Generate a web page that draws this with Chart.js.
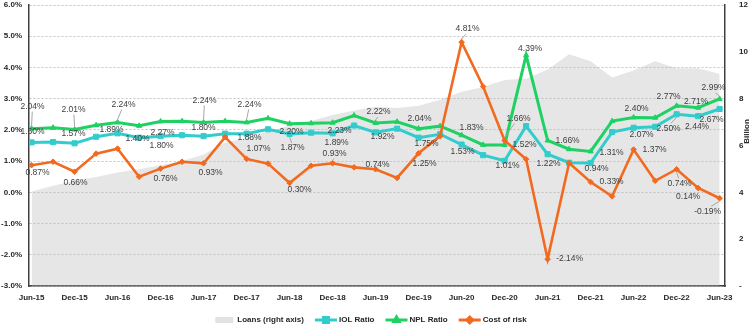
<!DOCTYPE html>
<html>
<head>
<meta charset="utf-8">
<script src="https://cdn.jsdelivr.net/npm/chart.js@4.4.0/dist/chart.umd.min.js"></script>
<style>
  html, body { margin: 0; padding: 0; background: #fff; }
  #wrap { width: 750px; height: 325px; }
</style>
</head>
<body>
<div id="wrap"><canvas id="riskChart"></canvas></div>
<script>
// Quarterly asset-quality ratios (left axis, %) and loan book (right axis, billion)
const quarters = ['Jun-15','Sep-15','Dec-15','Mar-16','Jun-16','Sep-16','Dec-16','Mar-17','Jun-17','Sep-17','Dec-17',
  'Mar-18','Jun-18','Sep-18','Dec-18','Mar-19','Jun-19','Sep-19','Dec-19','Mar-20','Jun-20','Sep-20','Dec-20',
  'Mar-21','Jun-21','Sep-21','Dec-21','Mar-22','Jun-22','Sep-22','Dec-22','Mar-23','Jun-23'];

const loans = [4.04, 4.28, 4.5, 4.66, 4.85, 4.99, 5.16, 5.34, 5.62, 6.12, 6.33, 6.6, 6.85, 7.05, 7.3, 7.5, 7.65,
  7.6, 7.7, 7.95, 8.3, 8.5, 8.8, 8.85, 9.25, 9.9, 9.6, 8.9, 9.2, 9.6, 9.3, 9.3, 9.05];

const iolRatio = [1.60, 1.61, 1.57, 1.78, 1.89, 1.75, 1.80, 1.83, 1.80, 1.88, 1.88, 2.02, 1.87, 1.91, 1.89, 2.14, 1.92,
  2.04, 1.75, 1.86, 1.53, 1.19, 1.01, 2.12, 1.22, 0.95, 0.94, 1.93, 2.07, 2.10, 2.50, 2.44, 2.67];

const nplRatio = [2.04, 2.07, 2.01, 2.15, 2.24, 2.13, 2.27, 2.28, 2.24, 2.28, 2.24, 2.37, 2.20, 2.21, 2.23, 2.46, 2.22,
  2.26, 2.04, 2.12, 1.83, 1.52, 1.52, 4.39, 1.66, 1.38, 1.31, 2.28, 2.40, 2.39, 2.77, 2.71, 2.99];

const costOfRisk = [0.87, 0.98, 0.66, 1.24, 1.40, 0.50, 0.76, 0.98, 0.93, 1.77, 1.07, 0.92, 0.30, 0.85, 0.93, 0.80, 0.74,
  0.46, 1.25, 1.80, 4.81, 3.39, 1.66, 1.06, -2.14, 0.94, 0.33, -0.13, 1.37, 0.37, 0.74, 0.14, -0.19];

const leftTicks = { min: -3, max: 6, step: 1 };
const rightTicks = { min: 0, max: 12, step: 2 };

// which points carry a value label: [series, index, dx, dy, leader line]
const labelSpots = [
  ['npl', 0, 1, -22, true], ['iol', 0, 1, -11], ['cor', 0, 6, 7],
  ['npl', 2, -1, -20, true], ['iol', 2, -1, -10], ['cor', 2, 1, 11],
  ['npl', 4, 6, -18, true], ['iol', 4, -6, -4], ['cor', 4, 20, -10],
  ['npl', 6, 2, 11], ['iol', 6, 1, 10], ['cor', 6, 5, 10],
  ['npl', 8, 1, -22, true], ['iol', 8, 0, -8], ['cor', 8, 7, 9],
  ['npl', 10, 3, -18, true], ['iol', 10, 3, 4], ['cor', 10, 12, -10],
  ['npl', 12, 2, 8], ['iol', 12, 3, 14, true], ['cor', 12, 10, 7],
  ['npl', 14, 7, 8], ['iol', 14, 4, 9], ['cor', 14, 2, -10, true],
  ['npl', 16, 3, -11, true], ['iol', 16, 7, 4], ['cor', 16, 2, -5],
  ['npl', 18, 1, -10], ['iol', 18, 8, 6], ['cor', 18, 6, 10],
  ['npl', 20, 10, -8], ['iol', 20, 1, 7], ['cor', 20, 6, -13, true],
  ['npl', 22, 20, 0], ['iol', 22, 3, 5], ['cor', 22, 14, -22, true],
  ['npl', 23, 4, -7],
  ['npl', 24, 20, 0], ['iol', 24, 1, 9], ['cor', 24, 22, 0],
  ['npl', 26, 21, 1], ['iol', 26, 6, 6], ['cor', 26, 21, 0],
  ['npl', 28, 3, -9], ['iol', 28, 8, 7], ['cor', 28, 21, 0],
  ['npl', 30, -8, -9], ['iol', 30, -8, 14, true], ['cor', 30, 3, 14, true],
  ['npl', 31, -2, -6], ['iol', 31, -1, 11], ['cor', 31, -10, 9],
  ['npl', 32, -6, -11, true], ['iol', 32, -8, 11], ['cor', 32, -12, 13, true]
];

const FONT = '"Liberation Sans", Arial, sans-serif';
const xy = arr => arr.map((v, i) => ({ x: i, y: v }));

const valueLabels = {
  id: 'valueLabels',
  afterDatasetsDraw(chart) {
    const ctx = chart.ctx;
    ctx.save();
    ctx.font = '8.5px ' + FONT;
    ctx.textAlign = 'center';
    ctx.textBaseline = 'middle';
    labelSpots.forEach(([key, i, dx, dy, lead]) => {
      const dsIndex = chart.data.datasets.findIndex(d => d.key === key);
      const pt = chart.getDatasetMeta(dsIndex).data[i];
      const val = chart.data.datasets[dsIndex].data[i].y;
      const lx = pt.x + dx, ly = pt.y + dy;
      if (lead) {
        const s = dy < 0 ? 1 : -1;
        ctx.strokeStyle = '#a6a6a6';
        ctx.lineWidth = 1;
        ctx.beginPath();
        ctx.moveTo(lx - dx * 0.3, ly + s * 5);
        ctx.lineTo(pt.x, pt.y - s * 3);
        ctx.stroke();
      }
      ctx.fillStyle = '#404040';
      ctx.fillText(val.toFixed(2) + '%', lx, ly);
    });
    ctx.restore();
  }
};

const bottomLegend = {
  id: 'bottomLegend',
  afterDraw(chart) {
    const ctx = chart.ctx;
    ctx.save();
    ctx.font = 'bold 8px ' + FONT;
    ctx.textBaseline = 'middle';
    const widths = chart.data.datasets.map(d => 22 + 2 + ctx.measureText(d.label).width);
    const total = widths.reduce((a, b) => a + b, 0) + 11 * (widths.length - 1);
    let x = 370 - total / 2;
    const y = 320;
    chart.data.datasets.forEach((d, k) => {
      if (d.fill) {
        ctx.fillStyle = '#e3e3e3';
        ctx.fillRect(x + 2, y - 3, 18, 6);
      } else {
        ctx.strokeStyle = d.borderColor;
        ctx.lineWidth = 3;
        ctx.beginPath();
        ctx.moveTo(x, y);
        ctx.lineTo(x + 22, y);
        ctx.stroke();
        ctx.fillStyle = d.borderColor;
        Chart.helpers.drawPoint(ctx, { pointStyle: d.pointStyle, radius: d.pointRadius, rotation: 0, borderWidth: 1 }, x + 11, y);
      }
      ctx.fillStyle = '#262626';
      ctx.fillText(d.label, x + 24, y);
      x += widths[k] + 11;
    });

    // right axis unit
    const y1 = chart.scales.y1;
    ctx.translate(chart.chartArea.right + 22, y1.getPixelForValue(6.6));
    ctx.rotate(-Math.PI / 2);
    ctx.textAlign = 'center';
    ctx.fillText('Billion', 0, 0);
    ctx.restore();
  }
};

const tickFont = { family: FONT, size: 8, weight: 'bold' };

new Chart(document.getElementById('riskChart'), {
  type: 'line',
  data: {
    datasets: [
      {
        key: 'loans', label: 'Loans (right axis)', data: xy(loans), yAxisID: 'y1',
        fill: 'origin', backgroundColor: 'rgba(185,185,185,0.36)', borderWidth: 0, pointRadius: 0, order: 4
      },
      {
        key: 'iol', label: 'IOL Ratio', data: xy(iolRatio), yAxisID: 'y',
        borderColor: '#33cccc', backgroundColor: '#33cccc', borderWidth: 3,
        pointStyle: 'rect', pointRadius: 3.6, pointBorderWidth: 1, fill: false, order: 3
      },
      {
        key: 'npl', label: 'NPL Ratio', data: xy(nplRatio), yAxisID: 'y',
        borderColor: '#1fd163', backgroundColor: '#1fd163', borderWidth: 3,
        pointStyle: 'triangle', pointRadius: 3, pointBorderWidth: 1, fill: false, order: 2
      },
      {
        key: 'cor', label: 'Cost of risk', data: xy(costOfRisk), yAxisID: 'y',
        borderColor: '#f26a1f', backgroundColor: '#f26a1f', borderWidth: 2.6,
        pointStyle: 'rectRot', pointRadius: 2.8, pointBorderWidth: 1, fill: false, order: 1
      }
    ]
  },
  options: {
    responsive: true,
    maintainAspectRatio: false,
    animation: false,
    events: [],
    layout: { padding: { top: 3, bottom: 19, left: 0, right: 0 } },
    plugins: { legend: { display: false }, tooltip: { enabled: false } },
    elements: { line: { tension: 0 } },
    scales: {
      x: {
        type: 'linear',
        min: -0.12,
        max: 32.25,
        grid: { display: false, drawTicks: false },
        border: { display: true, color: '#404040', width: 1.5 },
        ticks: {
          stepSize: 2, includeBounds: false, autoSkip: false, maxRotation: 0, padding: 7,
          color: '#262626', font: tickFont,
          callback: v => quarters[v] || ''
        },
        afterFit: s => { s.height = 20; s.paddingLeft = 0; s.paddingRight = 0; }
      },
      y: {
        position: 'left',
        min: leftTicks.min,
        max: leftTicks.max,
        grid: { color: '#c4c4c4', lineWidth: 1, drawTicks: false },
        border: { display: true, color: '#404040', width: 1.5, dash: [2, 2] },
        ticks: {
          stepSize: leftTicks.step, padding: 7, color: '#262626', font: tickFont,
          callback: v => v.toFixed(1) + '%'
        },
        afterFit: s => { s.width = 29; s.paddingTop = 0; s.paddingBottom = 0; }
      },
      y1: {
        position: 'right',
        min: rightTicks.min,
        max: rightTicks.max,
        grid: { display: false, drawTicks: false },
        border: { display: true, color: '#404040', width: 1.5 },
        ticks: {
          stepSize: rightTicks.step, padding: 14, color: '#262626', font: tickFont,
          callback: v => (v === 0 ? '-' : v)
        },
        afterFit: s => { s.width = 25; s.paddingTop = 0; s.paddingBottom = 0; }
      }
    }
  },
  plugins: [valueLabels, bottomLegend]
});
</script>
</body>
</html>
